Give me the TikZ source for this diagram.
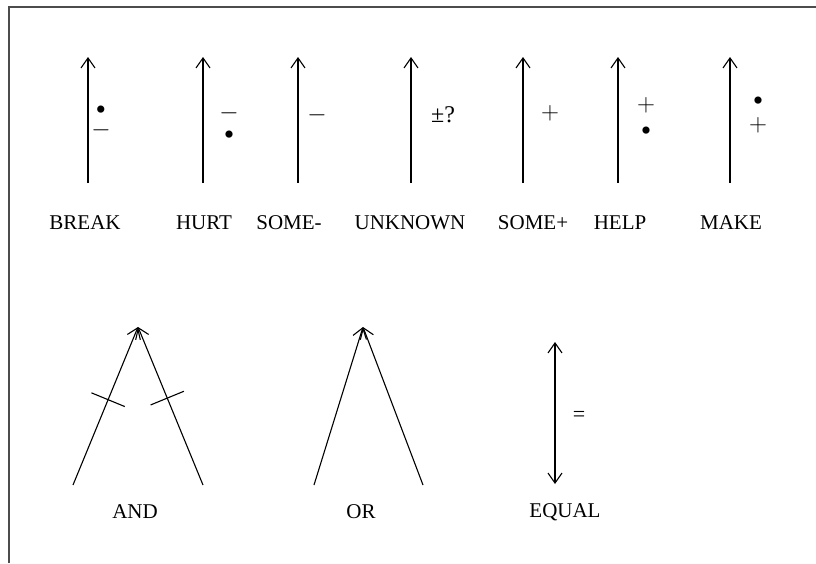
\documentclass[tikz,border=0pt]{standalone}
\usepackage{fontspec}
\setmainfont{Liberation Serif}
\usetikzlibrary{arrows.meta, calc}

\begin{document}
\begin{tikzpicture}[x=1pt, y=-1pt,
        frame/.style={line width=2pt, draw=black!70},
        arrow/.style={-{Straight Barb[length=10pt, width=14pt]}, line width=1.1pt},
        dblarrow/.style={{Straight Barb[length=10pt, width=14pt]}-{Straight Barb[length=10pt, width=14pt]}, line width=1.1pt},
        relname/.style={font=\fontsize{21}{21}\selectfont, inner sep=0pt},
        sign/.style={font=\fontsize{26}{26}\selectfont, inner sep=0pt, text height=13pt, text depth=0pt},
        dotsign/.style={font=\fontsize{30}{30}\selectfont, inner sep=0pt, text height=20pt, text depth=0pt},
        tick/.style={line width=1.1pt},
    ]
    \useasboundingbox (0,0) rectangle (816,563);
    \draw[frame] (816,7) -| (9,563);

    % Top row: single relations
    \foreach \name/\x/\lx/\txt in {break/88/85/BREAK, hurt/203/204/HURT, someminus/298/289/SOME-,
            unknown/411/410/UNKNOWN, someplus/523/533/SOME+, help/618/620/HELP, make/730/731/MAKE}{
        \coordinate (\name-foot) at (\x,183);
        \coordinate (\name-head) at (\x,57);
        \draw[arrow] (\name-foot) -- (\name-head);
        \node[relname] (\name-label) at (\lx,223) {\txt};
    }

    % Signs beside the arrows
    \node[dotsign] (break-dot) at (101,109) {\textbullet};
    \node[sign] (break-minus) at (101,130) {$-$};
    \node[sign] (hurt-minus) at (229,113) {$-$};
    \node[dotsign] (hurt-dot) at (229,134) {\textbullet};
    \node[sign] (someminus-minus) at (317,115) {$-$};
    \node[sign, font=\fontsize{24}{24}\selectfont, text height=15pt, anchor=west] (unknown-sign) at (431,115) {±?};
    \node[sign] (someplus-plus) at (550,113) {$+$};
    \node[sign] (help-plus) at (646,105) {$+$};
    \node[dotsign] (help-dot) at (646,130) {\textbullet};
    \node[dotsign] (make-dot) at (758,100) {\textbullet};
    \node[sign] (make-plus) at (758,125) {$+$};

    % AND
    \coordinate (and-apex) at (138,327);
    \coordinate (and-left) at (73,485);
    \coordinate (and-right) at (203,485);
    \draw[arrow] (and-left) -- (and-apex);
    \draw[arrow] (and-right) -- (and-apex);
    \path (and-left) -- (and-apex) coordinate[pos=0.54] (and-ltick);
    \path (and-right) -- (and-apex) coordinate[pos=0.55] (and-rtick);
    \draw[tick] ($(and-ltick)!18pt!90:(and-apex)$) -- ($(and-ltick)!18pt!-90:(and-apex)$);
    \draw[tick] ($(and-rtick)!18pt!90:(and-apex)$) -- ($(and-rtick)!18pt!-90:(and-apex)$);
    \node[relname] (and-label) at (135,512) {AND};

    % OR
    \coordinate (or-apex) at (363,327);
    \coordinate (or-left) at (314,485);
    \coordinate (or-right) at (423,485);
    \draw[arrow] (or-left) -- (or-apex);
    \draw[arrow] (or-right) -- (or-apex);
    \node[relname] (or-label) at (361,512) {OR};

    % EQUAL
    \coordinate (equal-top) at (555,342);
    \coordinate (equal-bottom) at (555,484);
    \draw[dblarrow] (equal-bottom) -- (equal-top);
    \node[sign, font=\fontsize{22}{22}\selectfont, text height=11pt] (equal-sign) at (579,416) {=};
    \node[relname] (equal-label) at (565,512) {EQUAL};
\end{tikzpicture}
\end{document}
